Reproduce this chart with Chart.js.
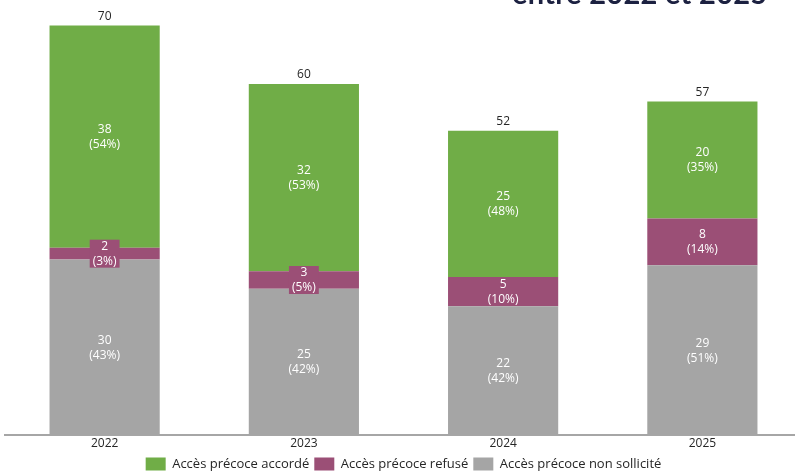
<!DOCTYPE html>
<html>
<head>
<meta charset="utf-8">
<script src="https://cdn.jsdelivr.net/npm/chart.js@4"></script>
<style>
  html, body { margin: 0; padding: 0; background: #fff; overflow: hidden; }
  #wrap { position: relative; width: 795px; height: 472px; overflow: hidden; }
  #title { position: absolute; left: 512px; top: -25px; font: bold 29px Lato, "DejaVu Sans", sans-serif;
           letter-spacing: 0.3px; color: #1c2141; white-space: nowrap; }
  #c { position: absolute; left: 0; top: 0; }
</style>
</head>
<body>
<div id="wrap">
  <canvas id="c" width="802" height="472"></canvas>
  <div id="title">entre 2022 et 2025</div>
</div>
<script>
// data
let years = ["2022", "2023", "2024", "2025"];
let accorde = [38, 32, 25, 20];
let refuse = [2, 3, 5, 8];
let nonSollicite = [30, 25, 22, 29];
let seriesNames = ["Accès précoce accordé", "Accès précoce refusé", "Accès précoce non sollicité"];
let colors = ["#70ad47", "#9b4f76", "#a5a5a5"];

let totals = years.map((y, i) => accorde[i] + refuse[i] + nonSollicite[i]);

// labels plugin - value + (pct) inside each piece, total on top
const labelsPlugin = {
    id: 'segLabels',
    afterDatasetsDraw(chart) {
        let ctx = chart.ctx;
        ctx.save();
        ctx.textAlign = 'center';
        ctx.textBaseline = 'middle';
        ctx.font = '12px "Open Sans", sans-serif';
        chart.data.datasets.forEach((ds, di) => {
            let meta = chart.getDatasetMeta(di);
            meta.data.forEach((bar, i) => {
                let v = ds.data[i];
                let pct = Math.round(v / totals[i] * 100);
                let cy = (bar.y + bar.base) / 2;
                let h = Math.abs(bar.base - bar.y);
                let l1 = String(v), l2 = '(' + pct + '%)';
                if (h < 26) {
                    let w = Math.max(ctx.measureText(l1).width, ctx.measureText(l2).width) + 6;
                    ctx.fillStyle = ds.backgroundColor;
                    ctx.fillRect(bar.x - w / 2, cy - 14, w, 28);
                }
                ctx.fillStyle = '#ffffff';
                ctx.fillText(l1, bar.x, cy - 7);
                ctx.fillText(l2, bar.x, cy + 8);
            });
        });
        // totals
        let top = chart.getDatasetMeta(0);
        ctx.fillStyle = '#262626';
        top.data.forEach((bar, i) => {
            let yTop = chart.scales.y.getPixelForValue(totals[i]);
            ctx.fillText(String(totals[i]), bar.x, yTop - 9);
        });
        ctx.restore();
    }
};

// order: gray at bottom, purple, green on top
let datasets = [
    { label: seriesNames[2], data: nonSollicite, backgroundColor: colors[2] },
    { label: seriesNames[1], data: refuse, backgroundColor: colors[1] },
    { label: seriesNames[0], data: accorde, backgroundColor: colors[0] }
].map(d => Object.assign(d, { barPercentage: 0.553, categoryPercentage: 1, borderWidth: 0 }));

new Chart(document.getElementById('c'), {
    type: 'bar',
    data: { labels: years, datasets: datasets },
    options: {
        responsive: false,
        animation: false,
        layout: { padding: { left: 5, right: 0, top: 2, bottom: -8.5 } },
        scales: {
            x: {
                stacked: true,
                grid: { display: false, drawTicks: false },
                border: { color: '#a6a6a6', width: 2 },
                ticks: { color: '#262626', font: { size: 12, family: '"Open Sans", sans-serif' }, padding: 1.5 }
            },
            y: { stacked: true, display: false, min: 0, max: 74 }
        },
        plugins: {
            legend: {
                position: 'bottom',
                reverse: true,
                labels: {
                    boxWidth: 20, boxHeight: 13, padding: 5, color: '#262626',
                    font: { size: 13, family: '"Open Sans", sans-serif' }
                }
            },
            tooltip: { enabled: false }
        }
    },
    plugins: [labelsPlugin]
});
</script>
</body>
</html>
